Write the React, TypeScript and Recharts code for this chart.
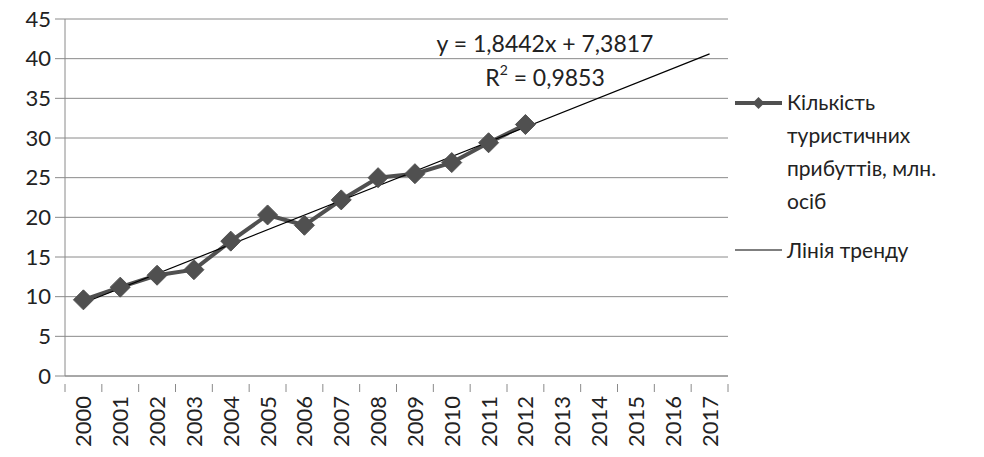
import { LineChart, Line, XAxis, YAxis, CartesianGrid, Legend } from 'recharts';

const years = ['2000', '2001', '2002', '2003', '2004', '2005', '2006', '2007', '2008', '2009', '2010', '2011', '2012', '2013', '2014', '2015', '2016', '2017'];
const arrivals = [9.6, 11.2, 12.7, 13.4, 17.0, 20.3, 19.0, 22.2, 25.0, 25.5, 26.9, 29.4, 31.7];
// trend line read at its two ends (2000 and 2017)
const trendStart = 9.2;
const trendEnd = 40.6;
const yTicks = [0, 5, 10, 15, 20, 25, 30, 35, 40, 45];

const seriesName = 'Кількість туристичних прибуттів, млн. осіб';
const trendName = 'Лінія тренду';
const equationText = 'y = 1,8442x + 7,3817';

const FONT = 'Lato, "Open Sans", sans-serif';
const GRID = '#8a8a8a';
const SERIES = '#505050';

const data = years.map((year, i) => ({
  year,
  arrivals: i < arrivals.length ? arrivals[i] : null,
  trend: i === 0 ? trendStart : i === years.length - 1 ? trendEnd : null,
}));

const BAND = (728 - 65) / years.length;

function Diamond({ cx, cy }: any) {
  if (cx == null || cy == null) return null;
  const r = 10;
  return (
    <path
      d={`M${cx},${cy - r}L${cx + r},${cy}L${cx},${cy + r}L${cx - r},${cy}Z`}
      fill={SERIES}
      stroke={SERIES}
    />
  );
}

function YearTick({ x, y, payload, index }: any) {
  const last = index === years.length - 1;
  return (
    <g>
      <line x1={x - BAND / 2} y1={y} x2={x - BAND / 2} y2={y + 8} stroke={GRID} />
      {last && <line x1={x + BAND / 2} y1={y} x2={x + BAND / 2} y2={y + 8} stroke={GRID} />}
      <text
        transform={`translate(${x + 8},${y + 12}) rotate(-90)`}
        textAnchor="end"
        fontSize={22}
        fontFamily={FONT}
        fill="#222"
      >
        {payload.value}
      </text>
    </g>
  );
}

function ChartLegend() {
  const text = { fontFamily: FONT, fontSize: 21, color: '#222', lineHeight: '33px' };
  return (
    <div style={{ position: 'relative', width: 249, height: 200 }}>
      <svg width={50} height={200} style={{ position: 'absolute', left: 0, top: 0 }}>
        <line x1={0} y1={18} x2={47} y2={18} stroke={SERIES} strokeWidth={4} />
        <path d="M23.5,12L29.5,18L23.5,24L17.5,18Z" fill={SERIES} />
        <line x1={0} y1={165} x2={47} y2={165} stroke="#000" strokeWidth={1.2} />
      </svg>
      <div style={{ ...text, position: 'absolute', left: 52, top: 0, width: 195 }}>
        Кількість<br />туристичних<br />прибуттів, млн.<br />осіб
      </div>
      <div style={{ ...text, position: 'absolute', left: 52, top: 148 }}>{trendName}</div>
    </div>
  );
}

export default function App() {
  return (
    <div style={{ position: 'absolute', left: 0, top: 0, width: 984, height: 457, background: '#fff' }}>
      <LineChart width={984} height={457} data={data} margin={{ top: 19, right: 256, left: 0, bottom: 0 }}>
        <CartesianGrid stroke={GRID} vertical={false} />
        <XAxis
          dataKey="year"
          interval={0}
          tickLine={false}
          axisLine={{ stroke: GRID }}
          tick={<YearTick />}
          padding={{ left: BAND / 2, right: BAND / 2 }}
          height={81}
        />
        <YAxis
          domain={[0, 45]}
          ticks={yTicks}
          width={65}
          tickSize={10}
          tickMargin={4}
          tickLine={{ stroke: GRID }}
          axisLine={{ stroke: GRID }}
          tick={{ fontSize: 22, fontFamily: FONT, fill: '#222' }}
        />
        <Legend
          layout="horizontal"
          align="center"
          verticalAlign="middle"
          content={() => <ChartLegend />}
          wrapperStyle={{ left: 735, top: 85, width: 249 }}
        />
        <Line
          dataKey="arrivals"
          name={seriesName}
          stroke={SERIES}
          strokeWidth={4}
          dot={<Diamond />}
          isAnimationActive={false}
        />
        <Line
          dataKey="trend"
          name={trendName}
          stroke="#000"
          strokeWidth={1.2}
          dot={false}
          connectNulls
          isAnimationActive={false}
        />
      </LineChart>
      <div
        style={{
          position: 'absolute',
          left: 405,
          top: 26,
          width: 280,
          textAlign: 'center',
          fontFamily: FONT,
          fontSize: 23,
          lineHeight: '34px',
          color: '#222',
        }}
      >
        {equationText}
        <br />
        R<sup style={{ fontSize: 14, verticalAlign: 'top', lineHeight: '20px' }}>2</sup> = 0,9853
      </div>
    </div>
  );
}
